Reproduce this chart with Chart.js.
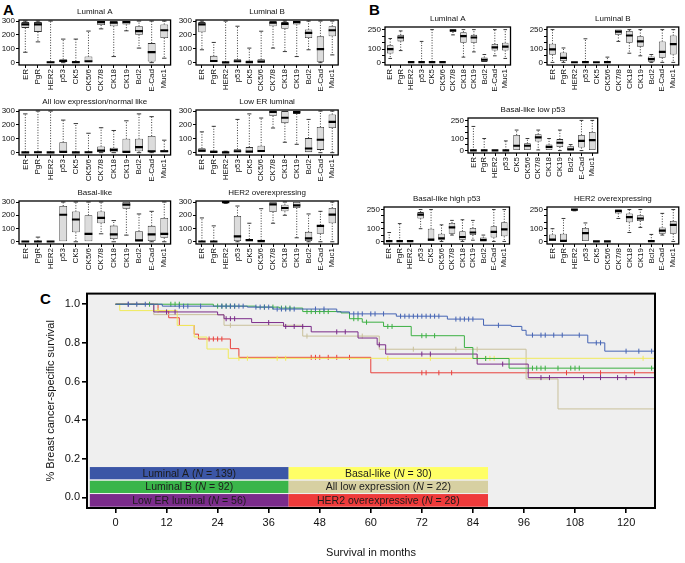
<!DOCTYPE html>
<html><head><meta charset="utf-8">
<script src="https://cdn.jsdelivr.net/npm/chart.js@4.4.1/dist/chart.umd.min.js"></script>
<style>
html,body{margin:0;padding:0;background:#fff}
body{width:685px;height:563px;overflow:hidden;position:relative;font-family:"Liberation Sans",Arial,sans-serif}
.pl{position:absolute;font-weight:bold;font-size:15px;line-height:15px;color:#000}
canvas{position:absolute}
</style></head><body>
<div class="pl" style="left:3px;top:2px">A</div>
<div class="pl" style="left:369px;top:2px">B</div>
<div class="pl" style="left:40px;top:291px">C</div>
<script>
// ---------- DATA ----------
const markers = ['ER','PgR','HER2','p53','CK5','CK5/6','CK7/8','CK18','CK19','Bcl2','E-Cad','Muc1'];
const yTicksA = [0,100,200,300];
const yLabelsA = [0,100,200,300];
const yTicksB = [0,50,100,150,200,250];
const yLabelsB = [0,100,250];
// each entry: [whisker low, Q1, median, Q3, whisker high]
const A_lumA = [[75,251,276,293,300],[150,222,276,293,300],[0,0,3,8,300],[0,3,12,24,170],[0,0,3,12,170],[0,0,10,44,228],[244,272,293,300,300],[44,263,288,300,300],[230,275,293,300,300],[105,202,227,263,300],[0,8,76,141,300],[32,178,234,276,300]];
const A_lumB = [[93,220,276,293,300],[0,0,12,49,146],[0,0,2,5,300],[0,0,10,24,263],[0,0,3,15,105],[0,0,8,24,227],[105,263,288,300,300],[80,244,280,293,300],[44,275,293,300,300],[93,178,215,239,300],[0,7,98,190,300],[56,190,234,263,300]];
const A_allLow = [[0,0,2,5,280],[0,0,3,8,300],[0,0,2,5,300],[0,0,5,75,235],[0,0,2,5,210],[0,0,3,8,140],[0,2,15,45,180],[0,2,20,35,160],[0,0,5,100,230],[0,10,40,100,280],[0,5,10,120,260],[0,0,10,20,90]];
const A_lowER = [[0,0,15,32,150],[0,0,5,15,190],[0,0,2,5,10],[0,0,10,25,240],[0,0,8,40,280],[0,0,12,50,250],[178,265,295,300,300],[75,213,252,300,300],[60,280,293,300,300],[0,0,30,105,240],[0,20,93,185,300],[0,178,222,276,300]];
const A_basal = [[0,0,2,5,5],[0,0,2,5,35],[0,0,2,5,5],[0,0,204,270,300],[0,71,168,229,300],[0,0,59,200,300],[60,140,181,229,300],[0,20,55,122,160],[50,250,280,300,300],[0,0,10,80,210],[0,5,55,120,230],[0,30,60,180,300]];
const A_her2 = [[0,0,2,5,180],[0,0,2,5,120],[290,292,300,300,300],[0,5,40,195,270],[0,0,12,20,140],[0,0,5,15,250],[140,225,282,300,300],[200,230,255,280,300],[30,255,275,300,300],[0,5,25,75,210],[0,60,120,125,230],[0,140,205,255,300]];
const B_lumA = [[30,68,101,131,182],[90,160,190,210,240],[0,0,2,5,5],[0,0,2,5,160],[0,0,2,5,250],[0,0,2,5,5],[210,232,245,250,250],[40,150,200,230,250],[80,150,190,210,250],[0,0,20,38,60],[50,90,115,140,250],[30,90,120,150,250]];
const B_lumB = [[0,58,100,142,250],[0,10,35,75,110],[0,0,1,3,3],[0,0,2,5,180],[0,0,1,3,3],[0,0,2,5,40],[160,210,235,250,250],[70,150,205,240,250],[50,120,160,200,250],[0,5,25,45,60],[0,35,80,160,250],[0,60,140,205,250]];
const B_basalLow = [[0,0,1,3,200],[0,0,1,3,100],[0,0,1,3,3],[0,0,2,5,80],[0,0,40,130,170],[0,0,40,60,100],[5,75,110,135,170],[0,0,30,50,100],[0,30,65,95,170],[0,0,10,35,50],[0,25,80,130,250],[0,0,87,155,250]];
const B_basalHigh = [[0,0,2,5,70],[0,0,2,5,140],[0,0,2,5,5],[100,180,210,230,250],[0,0,15,100,250],[0,10,25,60,130],[50,60,110,145,165],[0,10,35,80,170],[10,50,70,105,165],[0,0,10,30,50],[0,30,75,120,250],[0,40,95,150,250]];
const B_her2 = [[0,0,15,55,100],[0,0,5,60,180],[240,242,250,250,250],[0,0,65,105,145],[0,0,1,4,4],[0,0,1,4,4],[180,220,240,250,250],[70,150,190,220,250],[110,160,180,205,250],[0,0,2,5,55],[50,60,85,110,220],[0,60,130,160,250]];

// Kaplan-Meier step data (months, survival)
const kmEnd = 126.8;
const lumA_t = [0,11,31,37,52,55,66,78,86.5,93,95.5,96.5,111,115];
const lumA_s = [1,0.99,0.985,0.975,0.96,0.95,0.938,0.923,0.891,0.885,0.865,0.84,0.80,0.757];
const lumB_t = [0,23,33,38.5,44,53,55,58,63,69.5,82,84,92.5];
const lumB_s = [1,0.99,0.985,0.98,0.962,0.955,0.925,0.907,0.885,0.837,0.776,0.719,0.669];
const lowER_t = [0,9,24,25.5,32,39.5,46,57,61.5,63.5,85,97];
const lowER_s = [1,0.96,0.945,0.925,0.905,0.885,0.857,0.825,0.79,0.742,0.69,0.62];
const basal_t = [0,1,14.5,18.5,21.5,26.5];
const basal_s = [1,0.967,0.89,0.83,0.768,0.72];
const allLow_t = [0,9,25.5,44,62,96.5,104];
const allLow_s = [1,0.946,0.891,0.835,0.767,0.613,0.458];
const her2_t = [0,10,12.5,15,18.5,19.5,27,29,60];
const her2_s = [1,0.965,0.93,0.89,0.845,0.82,0.77,0.725,0.645];
// censored times
const lumA_c = [3,5,7,15,16,17,20,25,26,27,28,29,30,33,34,35,36,38,39,40,41,42,47,49,56,57,58,60,61,63,67,68,69,70,71,72,73,74,75,76,80,81,82,83,84,90,98,100,101,103,105,109,113,114,120,123,126];
const lumB_c = [8,13,14,15,24,25,26,27,28,35,37,39,40,41,45,46,47,48,49,50,56,57,59,64,65,72,73,75,87,98,99,100,101,104,107,108,109,126];
const lowER_c = [3,12,14,26,27,28,36,40,42,44,52,54,62,72,74,91,100,102,110,114,118,120];
const basal_c = [10,29,31,38,40,64,74,85,87,88,89,124];
const allLow_c = [5,27,45,58,70,80,85];
const her2_c = [22,23,24,25,46,47,48,50,52,55,72,73,76,79,106,114,122];
const kmXTicks = [0,12,24,36,48,60,72,84,96,108,120];
const kmYTicks = [0,0.2,0.4,0.6,0.8,1.0];
const legendNames = ['Luminal A','Luminal B','Low ER luminal','Basal-like','All low expression','HER2 overexpressive'];
const legendN = [139,92,56,30,22,28];

// ---------- STYLE ----------
Chart.defaults.font.family = '"Liberation Sans", Arial, Helvetica, sans-serif';
Chart.defaults.color = '#111';
Chart.defaults.animation = false;
Chart.defaults.plugins.legend.display = false;
Chart.defaults.plugins.tooltip.enabled = false;

const boxPlugin = {
  id:'boxExtras',
  afterDatasetsDraw(chart, args, opts){
    const ctx = chart.ctx, y = chart.scales.y, meta = chart.getDatasetMeta(0);
    ctx.save();
    ctx.beginPath();
    ctx.rect(chart.chartArea.left, chart.chartArea.top-2, chart.chartArea.right-chart.chartArea.left, chart.chartArea.bottom-chart.chartArea.top+2);
    ctx.clip();
    meta.data.forEach((bar,i)=>{
      const s = opts.stats[i];
      const x = bar.x, w = bar.width;
      const py = v=>y.getPixelForValue(v);
      ctx.strokeStyle = '#222';
      ctx.lineWidth = 0.9;
      ctx.setLineDash([1,1.6]);
      ctx.beginPath();
      if (s[4] > s[3]) { ctx.moveTo(x, py(s[3])); ctx.lineTo(x, py(s[4])); }
      if (s[0] < s[1]) { ctx.moveTo(x, py(s[1])); ctx.lineTo(x, py(s[0])); }
      ctx.stroke();
      ctx.setLineDash([]);
      ctx.beginPath();
      if (s[4] > s[3]) { ctx.moveTo(x-w*0.28, py(s[4])); ctx.lineTo(x+w*0.28, py(s[4])); }
      if (s[0] < s[1]) { ctx.moveTo(x-w*0.28, py(s[0])); ctx.lineTo(x+w*0.28, py(s[0])); }
      ctx.stroke();
      ctx.lineWidth = 2.2;
      ctx.strokeStyle = '#000';
      ctx.beginPath();
      ctx.moveTo(x-w/2, py(s[2])); ctx.lineTo(x+w/2, py(s[2]));
      ctx.stroke();
    });
    ctx.restore();
  },
  afterDraw(chart, args, opts){
    const ctx = chart.ctx, a = chart.chartArea;
    ctx.save();
    ctx.strokeStyle = '#000';
    ctx.lineWidth = 1.3;
    ctx.strokeRect(a.left, a.top, a.right-a.left, a.bottom-a.top);
    ctx.fillStyle = '#111';
    ctx.font = '8px "Liberation Sans", Arial, sans-serif';
    ctx.textAlign = 'center';
    ctx.textBaseline = 'bottom';
    ctx.fillText(opts.title, (a.left+a.right)/2, a.top - 4);
    ctx.restore();
  }
};

function makeBoxPanel(cfg){
  const yW = cfg.yW, tH = cfg.tH, xH = cfg.xH, padR = 3;
  const cv = document.createElement('canvas');
  const left = cfg.rect.l - yW, top = cfg.rect.t - tH;
  const w = cfg.rect.r - cfg.rect.l + yW + padR, h = cfg.rect.b - cfg.rect.t + tH + xH;
  cv.width = w; cv.height = h;
  cv.style.left = left + 'px'; cv.style.top = top + 'px';
  cv.style.width = w + 'px'; cv.style.height = h + 'px';
  document.body.appendChild(cv);
  new Chart(cv, {
    type:'bar',
    data:{labels:markers, datasets:[{
      data: cfg.stats.map(s=>[s[1], s[3]]),
      backgroundColor:'#dcdcdc', borderColor:'#333', borderWidth:0.8,
      borderSkipped:false, barPercentage:0.62, categoryPercentage:1
    }]},
    options:{
      responsive:false, maintainAspectRatio:false,
      layout:{padding:{top:tH, right:padR, left:0, bottom:0}},
      scales:{
        x:{
          grid:{display:true, drawOnChartArea:false, offset:false, tickLength:3, color:'#000', lineWidth:1},
          border:{display:false},
          ticks:{minRotation:90, maxRotation:90, autoSkip:false, font:{size:8}, padding:1, color:'#111'},
          afterFit:s=>{ s.height = xH; }
        },
        y:{
          min:cfg.yMin, max:cfg.yMax,
          grid:{drawOnChartArea:false, tickLength:3, color:'#000', lineWidth:1},
          border:{display:false},
          ticks:{autoSkip:false, font:{size:8}, padding:1, color:'#111', callback:(v)=> cfg.yLabels.includes(v) ? String(v) : ''},
          afterBuildTicks:s=>{ s.ticks = cfg.yTicks.map(v=>({value:v})); },
          afterFit:s=>{ s.width = yW; }
        }
      },
      plugins:{ boxExtras:{stats:cfg.stats, title:cfg.title} }
    },
    plugins:[boxPlugin]
  });
}

const A_cfg = {yW:19, tH:14, xH:28, yMin:-17, yMax:308, yTicks:yTicksA, yLabels:yLabelsA};
const B_cfg = {yW:20, tH:14, xH:28, yMin:-20, yMax:270, yTicks:yTicksB, yLabels:yLabelsB};
makeBoxPanel(Object.assign({}, A_cfg, {title:'Luminal A', stats:A_lumA, rect:{l:19,t:20,r:172,b:65}}));
makeBoxPanel(Object.assign({}, A_cfg, {title:'Luminal B', stats:A_lumB, rect:{l:196,t:20,r:340,b:65}}));
makeBoxPanel(Object.assign({}, A_cfg, {title:'All low expression/normal like', stats:A_allLow, rect:{l:19,t:110,r:172,b:155}}));
makeBoxPanel(Object.assign({}, A_cfg, {title:'Low ER luminal', stats:A_lowER, rect:{l:196,t:110,r:340,b:155}}));
makeBoxPanel(Object.assign({}, A_cfg, {title:'Basal-like', stats:A_basal, rect:{l:19,t:201,r:172,b:244}}));
makeBoxPanel(Object.assign({}, A_cfg, {title:'HER2 overexpressing', stats:A_her2, rect:{l:196,t:201,r:340,b:244}}));
makeBoxPanel(Object.assign({}, B_cfg, {title:'Luminal A', stats:B_lumA, rect:{l:385,t:27,r:513,b:65}}));
makeBoxPanel(Object.assign({}, B_cfg, {title:'Luminal B', stats:B_lumB, rect:{l:547,t:27,r:681,b:65}}));
makeBoxPanel(Object.assign({}, B_cfg, {title:'Basal-like low p53', stats:B_basalLow, rect:{l:468,t:118,r:600,b:153}}));
makeBoxPanel(Object.assign({}, B_cfg, {title:'Basal-like high p53', stats:B_basalHigh, rect:{l:384,t:207,r:512,b:244}}));
makeBoxPanel(Object.assign({}, B_cfg, {title:'HER2 overexpressing', stats:B_her2, rect:{l:547,t:207,r:681,b:244}}));

// ---------- KM ----------
function stepAt(ts, ss, t){ let v = ss[0]; for (let i=0;i<ts.length;i++){ if (ts[i] <= t) v = ss[i]; } return v; }
function curve(ts, ss){ return ts.map((t,i)=>({x:t, y:ss[i]})).concat([{x:kmEnd, y:ss[ss.length-1]}]); }
function cens(ts, ss, cs){ return cs.map(t=>({x:t, y:stepAt(ts, ss, t)})); }

const groups = [
  {t:lumA_t, s:lumA_s, c:lumA_c, col:'#4564b4'},
  {t:lumB_t, s:lumB_s, c:lumB_c, col:'#3cb043'},
  {t:lowER_t, s:lowER_s, c:lowER_c, col:'#7a2a88'},
  {t:basal_t, s:basal_s, c:basal_c, col:'#f0ea5a'},
  {t:allLow_t, s:allLow_s, c:allLow_c, col:'#c9c09a'},
  {t:her2_t, s:her2_s, c:her2_c, col:'#e8403c'}
];
const legendCols = ['#3b56a6','#3ab54a','#7b2c8b','#ffff66','#d7d0a2','#ef3b3b'];

const kmDatasets = [];
groups.forEach(g=>{
  kmDatasets.push({data:curve(g.t, g.s), showLine:true, stepped:'before', borderColor:g.col, borderWidth:1, pointRadius:0, fill:false});
  kmDatasets.push({data:cens(g.t, g.s, g.c), showLine:false, pointStyle:'line', rotation:90, pointRadius:2.5, borderColor:g.col, borderWidth:1, backgroundColor:g.col});
});

const kmPlugin = {
  id:'kmExtras',
  beforeDraw(chart){
    const ctx = chart.ctx, a = chart.chartArea;
    ctx.save(); ctx.fillStyle = '#efefef'; ctx.fillRect(a.left, a.top, a.right-a.left, a.bottom-a.top); ctx.restore();
  },
  afterDraw(chart){
    const ctx = chart.ctx, a = chart.chartArea;
    const W = a.right - a.left, H = a.bottom - a.top;
    const colX = [[0.005,0.355],[0.355,0.706]];
    const rowY = [[0.809,0.866],[0.873,0.930],[0.935,0.994]];
    ctx.save();
    for (let i=0;i<6;i++){
      const c = Math.floor(i/3), r = i%3;
      const x0 = a.left + colX[c][0]*W, x1 = a.left + colX[c][1]*W;
      const y0 = a.top + rowY[r][0]*H, y1 = a.top + rowY[r][1]*H;
      ctx.fillStyle = legendCols[i];
      ctx.fillRect(x0, y0, x1-x0, y1-y0);
      const p1 = legendNames[i] + ' (', p2 = 'N', p3 = ' = ' + legendN[i] + ')';
      const fN = '10.5px "Liberation Sans", Arial, sans-serif', fI = 'italic 10.5px "Liberation Sans", Arial, sans-serif';
      ctx.font = fN; const w1 = ctx.measureText(p1).width, w3 = ctx.measureText(p3).width;
      ctx.font = fI; const w2 = ctx.measureText(p2).width;
      let x = (x0+x1)/2 - (w1+w2+w3)/2; const y = (y0+y1)/2 + 0.5;
      ctx.fillStyle = '#1c1c1c'; ctx.textBaseline = 'middle'; ctx.textAlign = 'left';
      ctx.font = fN; ctx.fillText(p1, x, y); x += w1;
      ctx.font = fI; ctx.fillText(p2, x, y); x += w2;
      ctx.font = fN; ctx.fillText(p3, x, y);
    }
    ctx.strokeStyle = '#000'; ctx.lineWidth = 2;
    ctx.strokeRect(a.left, a.top, W, H);
    ctx.restore();
  }
};

const kmCanvas = document.createElement('canvas');
kmCanvas.width = 685; kmCanvas.height = 278;
kmCanvas.style.left = '0px'; kmCanvas.style.top = '285px';
kmCanvas.style.width = '685px'; kmCanvas.style.height = '278px';
document.body.appendChild(kmCanvas);
new Chart(kmCanvas, {
  type:'scatter',
  data:{datasets:kmDatasets},
  options:{
    responsive:false, maintainAspectRatio:false,
    layout:{padding:{left:44, top:6, right:30, bottom:0}},
    scales:{
      x:{type:'linear', min:-6.7, max:kmEnd,
        grid:{drawOnChartArea:false, tickLength:5, color:'#000', lineWidth:1.6},
        border:{display:false},
        ticks:{font:{size:11}, padding:3, color:'#111'},
        afterBuildTicks:s=>{ s.ticks = kmXTicks.map(v=>({value:v})); },
        title:{display:true, text:'Survival in months', font:{size:11}, color:'#111', padding:{top:4, bottom:3}},
        afterFit:s=>{ s.height = 55; }
      },
      y:{type:'linear', min:-0.055, max:1.055,
        grid:{drawOnChartArea:false, tickLength:5, color:'#000', lineWidth:1.6},
        border:{display:false},
        ticks:{font:{size:11}, padding:2, color:'#111', callback:v=>Number(v).toFixed(1)},
        afterBuildTicks:s=>{ s.ticks = kmYTicks.map(v=>({value:v})); },
        title:{display:true, text:'% Breast cancer-specific survival', font:{size:11}, color:'#111', padding:{top:0, bottom:2}},
        afterFit:s=>{ s.width = 43; }
      }
    }
  },
  plugins:[kmPlugin]
});
</script>
</body></html>
